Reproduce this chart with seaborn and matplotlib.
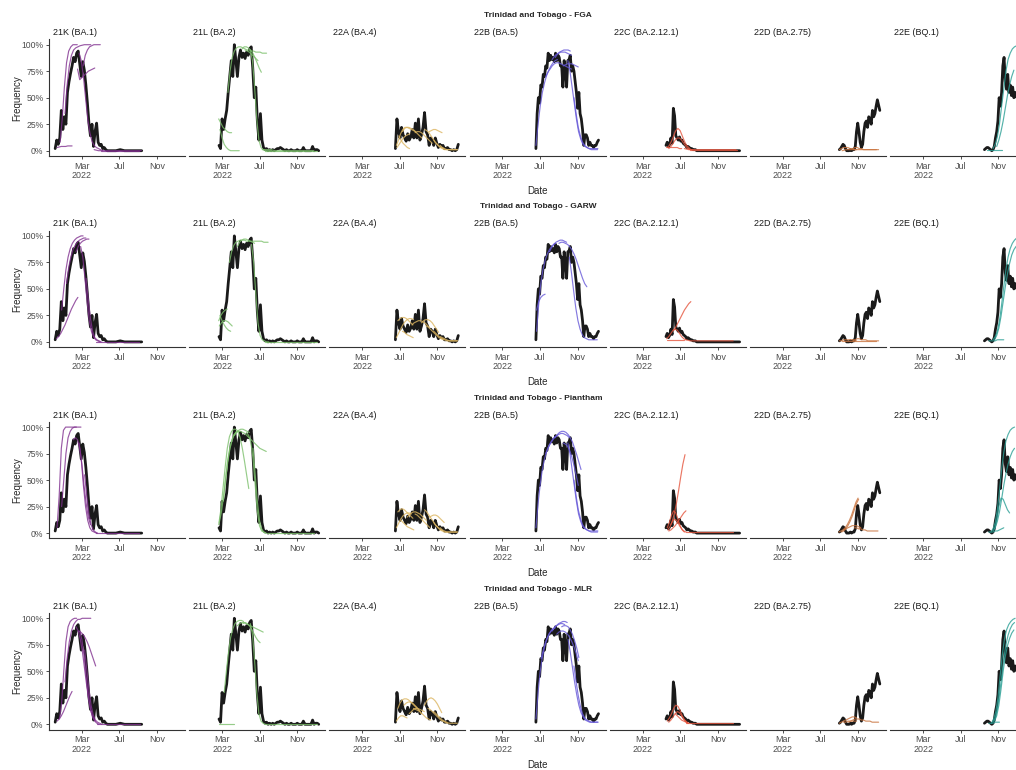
import numpy as np
import pandas as pd
import matplotlib
matplotlib.use("Agg")
import matplotlib.pyplot as plt
import seaborn as sns

# ---------------- data ----------------
COUNTRY = "Trinidad and Tobago"
MODELS = ["FGA", "GARW", "Piantham", "MLR"]
VARIANTS = ["21K (BA.1)", "21L (BA.2)", "22A (BA.4)", "22B (BA.5)",
            "22C (BA.2.12.1)", "22D (BA.2.75)", "22E (BQ.1)"]
VARIANT_COLORS = ["#80308f", "#7cc06c", "#dcb560", "#6658d8",
                  "#e5553d", "#c9733d", "#2a9f95"]
X_TICKS = ["2022-03-01", "2022-07-01", "2022-11-01"]
X_TICK_LABELS = ["Mar\n2022", "Jul", "Nov"]
Y_TICKS = [0.0, 0.25, 0.5, 0.75, 1.0]
Y_TICK_LABELS = ["0%", "25%", "50%", "75%", "100%"]

# observed frequencies: (start date, step in days, values)
OBS_21K = [("2021-12-04", 5, [0.02, 0.10, 0.06, 0.12, 0.38, 0.20, 0.32, 0.25, 0.55, 0.65, 0.73, 0.80,
                              0.88, 0.84, 0.92, 0.94, 0.82, 0.70, 0.84, 0.76, 0.62, 0.45, 0.26, 0.14,
                              0.25, 0.04, 0.18, 0.26, 0.08, 0.05, 0.06, 0.02, 0.03, 0.01, 0.00]),
           ("2022-06-06", 14, [0.00, 0.00, 0.01, 0.00, 0.00, 0.00, 0.00, 0.00])]
OBS_21L = [("2022-02-19", 5, [0.05, 0.02, 0.30, 0.20, 0.30, 0.38, 0.55, 0.70, 0.85, 0.70, 1.00, 0.85,
                              0.70, 0.88, 0.95, 0.88, 0.92, 0.87, 0.93, 0.90, 0.96, 0.98, 0.78, 0.50,
                              0.60, 0.28, 0.10, 0.35, 0.10, 0.03, 0.01, 0.02, 0.00, 0.01, 0.00, 0.01,
                              0.00, 0.01, 0.02, 0.02, 0.03, 0.02, 0.01, 0.00, 0.01, 0.00, 0.00, 0.01,
                              0.00, 0.00, 0.00, 0.01, 0.00, 0.00, 0.00, 0.03, 0.00, 0.00, 0.00, 0.00,
                              0.00, 0.04, 0.00, 0.01, 0.01, 0.00])]
OBS_22A = [("2022-06-17", 5, [0.02, 0.30, 0.18, 0.12, 0.22, 0.15, 0.12, 0.09, 0.16, 0.10, 0.13, 0.20,
                              0.12, 0.26, 0.12, 0.30, 0.10, 0.15, 0.22, 0.36, 0.18, 0.15, 0.05, 0.12,
                              0.10, 0.05, 0.12, 0.07, 0.03, 0.06, 0.04, 0.05, 0.02, 0.02, 0.03, 0.01,
                              0.01, 0.00, 0.01, 0.00, 0.01, 0.06])]
OBS_22B = [("2022-06-18", 4, [0.02, 0.35, 0.50, 0.45, 0.62, 0.60, 0.72, 0.70, 0.80, 0.78, 0.92, 0.85,
                              0.90, 0.86, 0.88, 0.84, 0.92, 0.85, 0.90, 0.88, 0.80, 0.80, 0.60, 0.85,
                              0.75, 0.60, 0.85, 0.86, 0.90, 0.75, 0.80, 0.75, 0.65, 0.55, 0.40, 0.55,
                              0.35, 0.30, 0.20, 0.05, 0.15, 0.15, 0.12, 0.05, 0.08, 0.05, 0.05, 0.03,
                              0.05, 0.05, 0.08, 0.10])]
OBS_22C = [("2022-05-16", 4, [0.05, 0.08, 0.04, 0.06, 0.12, 0.07, 0.40, 0.33, 0.14, 0.12, 0.10, 0.13,
                              0.09, 0.10, 0.07, 0.06, 0.05, 0.03, 0.04, 0.03, 0.02, 0.02, 0.01, 0.01,
                              0.01, 0.00]),
           ("2022-09-07", 14, [0.00, 0.00, 0.00, 0.00, 0.00, 0.00, 0.00, 0.00, 0.00, 0.00])]
OBS_22D = [("2022-09-01", 4, [0.01, 0.02, 0.04, 0.06, 0.05, 0.02, 0.00, 0.00, 0.00, 0.01, 0.00, 0.01,
                              0.01, 0.04, 0.18, 0.26, 0.18, 0.08, 0.03, 0.06, 0.18, 0.26, 0.28, 0.22,
                              0.32, 0.30, 0.25, 0.38, 0.32, 0.35, 0.42, 0.48, 0.43, 0.38])]
OBS_22E = [("2022-09-17", 4, [0.01, 0.02, 0.03, 0.03, 0.02, 0.01, 0.00, 0.01, 0.04, 0.12, 0.18, 0.28,
                              0.50, 0.42, 0.55, 0.80, 0.88, 0.65, 0.58, 0.72, 0.55, 0.62, 0.52, 0.60,
                              0.50, 0.55, 0.52, 0.48, 0.50, 0.46])]

# forecasts: list of (start date, step in days, values)
FGA_21K = [("2021-12-20", 7, [0.08, 0.30, 0.60, 0.83, 0.94, 0.98, 1.0, 1.0, 1.0]),
           ("2021-12-10", 7, [0.03, 0.035, 0.04, 0.04, 0.04, 0.045, 0.045, 0.045]),
           ("2022-01-05", 7, [0.35, 0.62, 0.80, 0.90, 0.95, 0.97, 0.98, 0.99, 0.995, 1.0, 1.0, 1.0, 1.0]),
           ("2022-03-05", 7, [0.80, 0.90, 0.95, 0.98, 0.99, 1.0, 1.0, 1.0, 1.0]),
           ("2022-02-15", 7, [0.77, 0.67, 0.69, 0.71, 0.73, 0.75, 0.76, 0.77, 0.78]),
           ("2022-02-20", 7, [0.92, 0.85, 0.70, 0.50, 0.30, 0.17, 0.09, 0.05, 0.03, 0.02, 0.01, 0.0]),
           ("2022-04-10", 14, [0.01, 0.0, 0.0, 0.0, 0.0, 0.0, 0.0, 0.0, 0.0, 0.0, 0.0, 0.0]),
           ("2022-05-01", 14, [0.0, 0.0, 0.0, 0.0, 0.0, 0.0, 0.0, 0.0, 0.0, 0.0])]
FGA_21L = [("2022-02-18", 7, [0.30, 0.26, 0.22, 0.20, 0.18, 0.17, 0.17]),
           ("2022-02-22", 7, [0.20, 0.12, 0.06, 0.03, 0.01, 0.0, 0.0, 0.0, 0.0, 0.0]),
           ("2022-03-20", 7, [0.55, 0.75, 0.88, 0.94, 0.97, 0.98, 0.98, 0.97, 0.96, 0.95, 0.95, 0.94,
                              0.94, 0.93, 0.93, 0.93, 0.92, 0.92, 0.92]),
           ("2022-05-05", 7, [0.96, 0.98, 0.98, 0.97, 0.95, 0.92, 0.88, 0.83, 0.78, 0.74]),
           ("2022-05-15", 7, [0.95, 0.94, 0.93, 0.91, 0.89, 0.87, 0.85]),
           ("2022-06-01", 7, [0.95, 0.85, 0.60, 0.30, 0.10, 0.03, 0.01, 0.0, 0.0, 0.0, 0.0]),
           ("2022-07-20", 14, [0.0, 0.0, 0.0, 0.0, 0.0, 0.0, 0.0, 0.0, 0.0, 0.0, 0.0, 0.0, 0.0]),
           ("2022-07-10", 14, [0.01, 0.01, 0.01, 0.0, 0.0, 0.0, 0.0, 0.0, 0.0, 0.0, 0.0, 0.0, 0.0])]
FGA_22A = [("2022-06-20", 7, [0.05, 0.10, 0.16, 0.20, 0.22, 0.22, 0.21, 0.20, 0.19, 0.18]),
           ("2022-06-22", 7, [0.03, 0.06, 0.09, 0.12, 0.14, 0.15, 0.16]),
           ("2022-06-28", 7, [0.14, 0.10, 0.07, 0.05, 0.03, 0.02]),
           ("2022-07-10", 7, [0.18, 0.21, 0.22, 0.22, 0.21, 0.20, 0.18, 0.16, 0.14, 0.12]),
           ("2022-08-20", 7, [0.17, 0.18, 0.18, 0.17, 0.15, 0.13, 0.11, 0.09, 0.07]),
           ("2022-09-20", 7, [0.20, 0.19, 0.17, 0.14, 0.11, 0.08, 0.06, 0.04, 0.03, 0.02]),
           ("2022-10-05", 7, [0.18, 0.19, 0.20, 0.20, 0.19, 0.18, 0.17]),
           ("2022-10-20", 7, [0.10, 0.07, 0.05, 0.03, 0.02, 0.01, 0.01, 0.01, 0.01, 0.01, 0.01, 0.01]),
           ("2022-11-10", 7, [0.05, 0.03, 0.02, 0.01, 0.01, 0.01, 0.01, 0.01, 0.01])]
FGA_22B = [("2022-06-18", 7, [0.05, 0.25, 0.42, 0.55, 0.64, 0.71, 0.76, 0.80, 0.83, 0.85, 0.86]),
           ("2022-07-20", 7, [0.70, 0.74, 0.77, 0.80, 0.82, 0.83, 0.83, 0.82, 0.81, 0.80, 0.79, 0.78, 0.77]),
           ("2022-08-10", 7, [0.86, 0.89, 0.91, 0.92, 0.93, 0.93, 0.93, 0.92, 0.91, 0.90]),
           ("2022-08-20", 7, [0.88, 0.91, 0.93, 0.94, 0.95, 0.95, 0.95, 0.94]),
           ("2022-09-15", 7, [0.80, 0.81, 0.82, 0.82, 0.82, 0.81, 0.80, 0.79]),
           ("2022-09-30", 7, [0.85, 0.75, 0.60, 0.45, 0.30, 0.18, 0.11, 0.06, 0.04, 0.03, 0.02, 0.02,
                              0.02, 0.02, 0.02]),
           ("2022-10-20", 7, [0.50, 0.35, 0.22, 0.14, 0.08, 0.05, 0.03, 0.02, 0.01, 0.01, 0.01, 0.01])]
FGA_22C = [("2022-05-20", 7, [0.03, 0.05, 0.09, 0.14, 0.19, 0.21, 0.19, 0.14, 0.09, 0.05, 0.03, 0.01, 0.01]),
           ("2022-05-25", 7, [0.02, 0.04, 0.07, 0.10, 0.12, 0.12, 0.10, 0.07, 0.04, 0.02, 0.01]),
           ("2022-05-18", 7, [0.03, 0.03, 0.03, 0.03, 0.03, 0.03, 0.02, 0.02]),
           ("2022-07-15", 14, [0.02, 0.01, 0.01, 0.01, 0.01, 0.01, 0.01, 0.01, 0.01, 0.01, 0.01, 0.01, 0.01]),
           ("2022-08-01", 14, [0.01, 0.01, 0.01, 0.01, 0.01, 0.01, 0.01, 0.01, 0.01, 0.01, 0.01, 0.01])]
FGA_22D = [("2022-09-01", 7, [0.01, 0.02, 0.03, 0.03, 0.03, 0.02, 0.02, 0.01, 0.01]),
           ("2022-10-15", 7, [0.02, 0.03, 0.03, 0.02, 0.02, 0.01, 0.01, 0.01, 0.01, 0.01, 0.01, 0.01, 0.01]),
           ("2022-09-10", 14, [0.00, 0.01, 0.01, 0.01, 0.01, 0.01, 0.01, 0.01, 0.01])]
FGA_22E = [("2022-10-15", 7, [0.02, 0.06, 0.13, 0.25, 0.42, 0.58, 0.75, 0.86, 0.92, 0.96, 0.98, 0.99]),
           ("2022-10-27", 7, [0.04, 0.10, 0.18, 0.28, 0.40, 0.52, 0.62, 0.70, 0.76]),
           ("2022-09-25", 7, [0.01, 0.01, 0.01, 0.01, 0.01, 0.01, 0.01, 0.01])]

GARW_21K = [("2021-12-08", 7, [0.03, 0.05, 0.08, 0.12, 0.16, 0.21, 0.26, 0.31, 0.35, 0.39, 0.42]),
            ("2021-12-25", 7, [0.30, 0.50, 0.68, 0.80, 0.88, 0.93, 0.96, 0.98, 0.99, 1.0, 1.0]),
            ("2022-01-10", 7, [0.55, 0.70, 0.80, 0.87, 0.91, 0.94, 0.96, 0.97, 0.98, 0.98]),
            ("2022-02-10", 7, [0.85, 0.90, 0.93, 0.95, 0.96, 0.97, 0.97]),
            ("2022-02-25", 7, [0.90, 0.80, 0.60, 0.38, 0.20, 0.10, 0.05, 0.02, 0.01, 0.0]),
            ("2022-03-15", 7, [0.60, 0.40, 0.22, 0.10, 0.04, 0.02, 0.01, 0.0]),
            ("2022-04-15", 14, [0.0, 0.0, 0.0, 0.0, 0.0, 0.0, 0.0, 0.0, 0.0, 0.0, 0.0])]
GARW_21L = [("2022-02-18", 7, [0.20, 0.25, 0.28, 0.30, 0.31]),
            ("2022-02-20", 7, [0.15, 0.18, 0.20, 0.20, 0.19, 0.17, 0.15]),
            ("2022-02-22", 7, [0.25, 0.20, 0.16, 0.13, 0.11, 0.10]),
            ("2022-03-25", 7, [0.75, 0.85, 0.91, 0.94, 0.95, 0.96, 0.96, 0.96, 0.95, 0.95, 0.95, 0.95,
                               0.95, 0.95, 0.95, 0.95, 0.94, 0.94, 0.94]),
            ("2022-04-20", 7, [0.90, 0.94, 0.96, 0.97, 0.97, 0.96, 0.95, 0.94, 0.93]),
            ("2022-06-05", 7, [0.92, 0.75, 0.45, 0.18, 0.06, 0.02, 0.01, 0.0, 0.0]),
            ("2022-07-20", 14, [0.0, 0.0, 0.0, 0.0, 0.0, 0.0, 0.0, 0.0, 0.0, 0.0, 0.0, 0.0, 0.0])]
GARW_22A = [("2022-06-20", 7, [0.04, 0.08, 0.12, 0.16, 0.19, 0.21, 0.22, 0.22, 0.21]),
            ("2022-06-25", 7, [0.20, 0.22, 0.23, 0.23, 0.22, 0.20, 0.18, 0.16]),
            ("2022-07-10", 7, [0.10, 0.09, 0.07, 0.06, 0.05, 0.04]),
            ("2022-08-10", 7, [0.16, 0.18, 0.19, 0.20, 0.20, 0.19, 0.18, 0.16, 0.14]),
            ("2022-09-10", 7, [0.18, 0.20, 0.21, 0.21, 0.20, 0.18, 0.15, 0.12, 0.09]),
            ("2022-09-25", 7, [0.15, 0.14, 0.12, 0.10, 0.08, 0.06, 0.04, 0.03, 0.02]),
            ("2022-10-20", 7, [0.10, 0.08, 0.06, 0.04, 0.03, 0.02, 0.01, 0.01, 0.01, 0.01, 0.01, 0.01]),
            ("2022-11-10", 7, [0.05, 0.04, 0.03, 0.02, 0.01, 0.01, 0.01, 0.01, 0.01])]
GARW_22B = [("2022-06-20", 7, [0.30, 0.38, 0.42, 0.44, 0.45]),
            ("2022-06-20", 7, [0.10, 0.35, 0.55, 0.68, 0.77, 0.83, 0.87, 0.90, 0.92, 0.93]),
            ("2022-08-01", 7, [0.85, 0.89, 0.92, 0.94, 0.95, 0.96, 0.96, 0.95, 0.94]),
            ("2022-09-01", 7, [0.93, 0.94, 0.94, 0.93, 0.92, 0.90, 0.87, 0.83, 0.78, 0.72, 0.66, 0.60,
                               0.55, 0.52]),
            ("2022-10-05", 7, [0.80, 0.65, 0.48, 0.32, 0.20, 0.12, 0.07, 0.04, 0.03, 0.02, 0.02, 0.02,
                               0.02, 0.02])]
GARW_22C = [("2022-06-10", 7, [0.11, 0.14, 0.18, 0.22, 0.26, 0.30, 0.33, 0.36, 0.38]),
            ("2022-05-18", 7, [0.03, 0.05, 0.08, 0.11, 0.12, 0.11, 0.08, 0.05, 0.03, 0.02]),
            ("2022-05-20", 7, [0.02, 0.02, 0.02, 0.02, 0.02, 0.02, 0.02, 0.02, 0.02]),
            ("2022-07-20", 14, [0.02, 0.01, 0.01, 0.01, 0.01, 0.01, 0.01, 0.01, 0.01, 0.01, 0.01, 0.01])]
GARW_22D = [("2022-09-01", 7, [0.01, 0.01, 0.02, 0.02, 0.02, 0.02, 0.02, 0.01, 0.01]),
            ("2022-10-15", 7, [0.02, 0.02, 0.03, 0.03, 0.02, 0.02, 0.02, 0.01, 0.01, 0.01, 0.01, 0.01, 0.01]),
            ("2022-09-10", 14, [0.01, 0.01, 0.01, 0.01, 0.01, 0.01, 0.01, 0.01, 0.01])]
GARW_22E = [("2022-10-15", 7, [0.02, 0.05, 0.10, 0.20, 0.35, 0.52, 0.68, 0.80, 0.88, 0.93, 0.96, 0.98, 0.99]),
            ("2022-10-20", 7, [0.02, 0.06, 0.13, 0.24, 0.38, 0.52, 0.64, 0.74, 0.82, 0.87, 0.90, 0.92]),
            ("2022-10-01", 7, [0.01, 0.01, 0.01, 0.01, 0.02, 0.02, 0.02, 0.02])]

PIANTHAM_21K = [("2021-12-10", 7, [0.05, 0.35, 0.80, 0.97, 1.0, 1.0, 1.0, 1.0, 1.0, 1.0]),
                ("2021-12-25", 7, [0.25, 0.50, 0.75, 0.90, 0.96, 0.99, 1.0, 1.0, 1.0, 1.0]),
                ("2022-02-01", 7, [0.88, 0.90, 0.88, 0.80, 0.65, 0.45, 0.28, 0.15, 0.08]),
                ("2022-02-20", 7, [0.85, 0.70, 0.45, 0.25, 0.12, 0.05, 0.02, 0.01, 0.0]),
                ("2022-03-10", 7, [0.55, 0.35, 0.18, 0.08, 0.03, 0.01, 0.0]),
                ("2022-04-15", 14, [0.0, 0.0, 0.0, 0.0, 0.0, 0.0, 0.0, 0.0, 0.0, 0.0, 0.0])]
PIANTHAM_21L = [("2022-02-18", 7, [0.08, 0.22, 0.42, 0.62, 0.80, 0.91, 0.96, 0.98, 0.98, 0.96, 0.90,
                                   0.80, 0.68, 0.55, 0.42]),
                ("2022-03-05", 7, [0.30, 0.50, 0.68, 0.80, 0.88, 0.93, 0.95, 0.96, 0.96, 0.95, 0.94,
                                   0.92, 0.90, 0.88, 0.86, 0.84, 0.82, 0.80, 0.79, 0.78, 0.77]),
                ("2022-04-10", 7, [0.92, 0.95, 0.97, 0.98, 0.98, 0.97, 0.96, 0.95]),
                ("2022-05-20", 7, [0.95, 0.92, 0.85, 0.70, 0.45, 0.20, 0.07, 0.02, 0.01, 0.0]),
                ("2022-06-10", 7, [0.80, 0.55, 0.30, 0.12, 0.04, 0.01, 0.0]),
                ("2022-07-25", 14, [0.0, 0.0, 0.0, 0.0, 0.0, 0.0, 0.0, 0.0, 0.0, 0.0, 0.0, 0.0]),
                ("2022-02-20", 7, [0.10, 0.20, 0.35, 0.52, 0.68, 0.80, 0.88, 0.93, 0.96])]
PIANTHAM_22A = [("2022-06-20", 7, [0.05, 0.09, 0.13, 0.16, 0.18, 0.19, 0.19, 0.18]),
                ("2022-06-25", 7, [0.20, 0.22, 0.23, 0.22, 0.20, 0.18, 0.16, 0.14]),
                ("2022-07-05", 7, [0.12, 0.10, 0.08, 0.06, 0.05, 0.04, 0.03]),
                ("2022-07-25", 7, [0.15, 0.17, 0.19, 0.20, 0.20, 0.19, 0.18, 0.16, 0.14, 0.12]),
                ("2022-08-20", 7, [0.18, 0.17, 0.15, 0.13, 0.11, 0.09, 0.07, 0.05]),
                ("2022-09-20", 7, [0.22, 0.20, 0.17, 0.14, 0.11, 0.08, 0.06, 0.04, 0.03]),
                ("2022-10-05", 7, [0.15, 0.16, 0.17, 0.17, 0.16, 0.14, 0.12, 0.10]),
                ("2022-10-20", 7, [0.10, 0.07, 0.05, 0.03, 0.02, 0.01, 0.01, 0.01, 0.01, 0.01, 0.01, 0.01]),
                ("2022-11-10", 7, [0.05, 0.03, 0.02, 0.01, 0.01, 0.01, 0.01, 0.01, 0.01])]
PIANTHAM_22B = [("2022-06-18", 7, [0.05, 0.28, 0.46, 0.60, 0.70, 0.77, 0.82, 0.86, 0.89, 0.91, 0.92]),
                ("2022-07-20", 7, [0.75, 0.80, 0.84, 0.87, 0.90, 0.92, 0.93, 0.94, 0.94, 0.93, 0.92, 0.90]),
                ("2022-08-20", 7, [0.90, 0.93, 0.95, 0.96, 0.96, 0.95, 0.93, 0.90, 0.86, 0.80, 0.74, 0.67,
                                   0.60]),
                ("2022-09-15", 7, [0.85, 0.84, 0.82, 0.78, 0.72, 0.64, 0.55, 0.45]),
                ("2022-09-30", 7, [0.85, 0.75, 0.60, 0.45, 0.30, 0.18, 0.11, 0.06, 0.04, 0.03, 0.02, 0.02,
                                   0.02, 0.02, 0.02]),
                ("2022-10-20", 7, [0.50, 0.35, 0.22, 0.14, 0.08, 0.05, 0.03, 0.02, 0.01, 0.01, 0.01, 0.01])]
PIANTHAM_22C = [("2022-05-22", 7, [0.03, 0.06, 0.11, 0.18, 0.28, 0.40, 0.53, 0.65, 0.74]),
                ("2022-05-25", 7, [0.02, 0.03, 0.05, 0.07, 0.10, 0.13, 0.16, 0.19, 0.21]),
                ("2022-05-20", 7, [0.05, 0.10, 0.17, 0.21, 0.19, 0.13, 0.07, 0.03, 0.01]),
                ("2022-06-01", 7, [0.08, 0.12, 0.13, 0.11, 0.07, 0.04, 0.02, 0.01]),
                ("2022-07-20", 14, [0.01, 0.01, 0.01, 0.01, 0.01, 0.01, 0.01, 0.01, 0.01, 0.01, 0.01, 0.01])]
PIANTHAM_22D = [("2022-08-30", 7, [0.01, 0.02, 0.03, 0.05, 0.08, 0.12, 0.17, 0.23, 0.29, 0.33]),
                ("2022-09-08", 7, [0.01, 0.02, 0.04, 0.07, 0.11, 0.16, 0.22, 0.28, 0.32]),
                ("2022-09-15", 7, [0.03, 0.04, 0.05, 0.06, 0.07, 0.07, 0.07, 0.06, 0.05]),
                ("2022-10-20", 7, [0.05, 0.05, 0.04, 0.04, 0.03, 0.03, 0.02, 0.02, 0.02, 0.02, 0.02, 0.02])]
PIANTHAM_22E = [("2022-10-08", 7, [0.01, 0.04, 0.10, 0.22, 0.40, 0.60, 0.76, 0.87, 0.93, 0.97, 0.99, 1.0]),
                ("2022-10-15", 7, [0.02, 0.05, 0.11, 0.20, 0.32, 0.45, 0.56, 0.65, 0.72, 0.77, 0.80]),
                ("2022-10-20", 7, [0.04, 0.12, 0.25, 0.33, 0.32, 0.27, 0.22, 0.19]),
                ("2022-10-01", 7, [0.01, 0.01, 0.01, 0.02, 0.02, 0.03, 0.04, 0.05])]

MLR_21K = [("2021-12-10", 7, [0.03, 0.05, 0.08, 0.12, 0.17, 0.22, 0.27, 0.31]),
           ("2021-12-18", 7, [0.05, 0.20, 0.50, 0.78, 0.92, 0.97, 0.99, 1.0, 1.0]),
           ("2022-01-05", 7, [0.40, 0.62, 0.78, 0.88, 0.94, 0.97, 0.99, 0.99, 1.0, 1.0, 1.0, 1.0, 1.0]),
           ("2022-02-18", 7, [0.88, 0.87, 0.85, 0.82, 0.78, 0.73, 0.67, 0.61, 0.55]),
           ("2022-02-22", 7, [0.88, 0.80, 0.65, 0.45, 0.27, 0.14, 0.07, 0.03, 0.01, 0.0]),
           ("2022-03-10", 7, [0.70, 0.52, 0.33, 0.18, 0.09, 0.04, 0.02, 0.01, 0.0]),
           ("2022-02-10", 7, [0.92, 0.88, 0.80, 0.68, 0.52, 0.36, 0.22, 0.12, 0.06, 0.03]),
           ("2022-04-20", 14, [0.0, 0.0, 0.0, 0.0, 0.0, 0.0, 0.0, 0.0, 0.0, 0.0, 0.0])]
MLR_21L = [("2022-02-20", 7, [0.0, 0.0, 0.0, 0.0, 0.0, 0.0, 0.0, 0.0]),
           ("2022-03-08", 7, [0.30, 0.50, 0.68, 0.82, 0.90, 0.95, 0.97, 0.98, 0.98, 0.97]),
           ("2022-04-20", 7, [0.93, 0.95, 0.96, 0.96, 0.95, 0.94, 0.93, 0.92, 0.91, 0.90, 0.89, 0.88, 0.87]),
           ("2022-05-08", 7, [0.95, 0.96, 0.95, 0.93, 0.90, 0.86, 0.82, 0.79, 0.77]),
           ("2022-06-01", 7, [0.95, 0.85, 0.60, 0.30, 0.10, 0.03, 0.01, 0.0]),
           ("2022-07-20", 14, [0.0, 0.0, 0.0, 0.0, 0.0, 0.0, 0.0, 0.0, 0.0, 0.0, 0.0, 0.0, 0.0])]
MLR_22A = [("2022-06-20", 7, [0.03, 0.06, 0.08, 0.08, 0.07, 0.06]),
           ("2022-06-25", 7, [0.15, 0.20, 0.23, 0.24, 0.24, 0.23, 0.21, 0.19, 0.17, 0.15, 0.13]),
           ("2022-07-15", 7, [0.18, 0.20, 0.21, 0.21, 0.20, 0.18, 0.16, 0.13, 0.10]),
           ("2022-08-15", 7, [0.15, 0.14, 0.13, 0.12, 0.10, 0.08, 0.06, 0.05, 0.04]),
           ("2022-09-20", 7, [0.18, 0.22, 0.24, 0.25, 0.24, 0.22, 0.19, 0.15, 0.11]),
           ("2022-10-01", 7, [0.15, 0.14, 0.12, 0.10, 0.08, 0.06, 0.04, 0.03, 0.02, 0.01]),
           ("2022-10-20", 7, [0.12, 0.10, 0.08, 0.06, 0.04, 0.03, 0.02, 0.01, 0.01, 0.01, 0.01, 0.01]),
           ("2022-08-01", 7, [0.10, 0.12, 0.14, 0.15, 0.15, 0.14, 0.13, 0.12])]
MLR_22B = [("2022-06-18", 7, [0.05, 0.30, 0.50, 0.63, 0.73, 0.80, 0.85, 0.88, 0.90, 0.91]),
           ("2022-07-05", 7, [0.62, 0.70, 0.77, 0.82, 0.86, 0.89, 0.91, 0.93, 0.94, 0.95, 0.95, 0.94]),
           ("2022-08-10", 7, [0.88, 0.91, 0.93, 0.95, 0.96, 0.97, 0.97, 0.96]),
           ("2022-08-25", 7, [0.85, 0.87, 0.88, 0.88, 0.87, 0.85, 0.82, 0.78, 0.73, 0.67, 0.60]),
           ("2022-09-10", 7, [0.92, 0.93, 0.93, 0.92, 0.89, 0.85, 0.79, 0.72, 0.63]),
           ("2022-10-01", 7, [0.80, 0.68, 0.54, 0.40, 0.28, 0.18, 0.11, 0.07, 0.04, 0.03, 0.02, 0.02,
                              0.02, 0.02, 0.02]),
           ("2022-10-20", 7, [0.55, 0.40, 0.27, 0.17, 0.10, 0.06, 0.04, 0.03, 0.02, 0.02, 0.02, 0.02])]
MLR_22C = [("2022-05-20", 7, [0.03, 0.06, 0.10, 0.15, 0.18, 0.17, 0.13, 0.08, 0.04, 0.02, 0.01]),
           ("2022-05-25", 7, [0.02, 0.04, 0.07, 0.10, 0.12, 0.11, 0.08, 0.05, 0.03, 0.01]),
           ("2022-06-15", 7, [0.10, 0.08, 0.06, 0.04, 0.03, 0.02, 0.01]),
           ("2022-07-20", 14, [0.01, 0.01, 0.01, 0.01, 0.01, 0.01, 0.01, 0.01, 0.01, 0.01, 0.01, 0.01])]
MLR_22D = [("2022-09-01", 7, [0.01, 0.02, 0.03, 0.04, 0.05, 0.06, 0.07, 0.07, 0.06]),
           ("2022-10-01", 7, [0.02, 0.03, 0.04, 0.05, 0.05, 0.05, 0.04, 0.04, 0.03, 0.03, 0.03, 0.02,
                              0.02, 0.02, 0.02]),
           ("2022-09-15", 7, [0.02, 0.02, 0.03, 0.03, 0.03, 0.03, 0.03])]
MLR_22E = [("2022-10-10", 7, [0.01, 0.05, 0.12, 0.25, 0.45, 0.65, 0.80, 0.89, 0.94, 0.97, 0.99, 1.0]),
           ("2022-10-15", 7, [0.02, 0.06, 0.14, 0.28, 0.45, 0.62, 0.75, 0.84, 0.90, 0.94, 0.96]),
           ("2022-10-20", 7, [0.03, 0.08, 0.18, 0.33, 0.50, 0.64, 0.74, 0.81, 0.86, 0.89]),
           ("2022-10-01", 7, [0.01, 0.01, 0.01, 0.02, 0.02, 0.02])]

OBSERVED = [OBS_21K, OBS_21L, OBS_22A, OBS_22B, OBS_22C, OBS_22D, OBS_22E]
FORECASTS = {
    "FGA": [FGA_21K, FGA_21L, FGA_22A, FGA_22B, FGA_22C, FGA_22D, FGA_22E],
    "GARW": [GARW_21K, GARW_21L, GARW_22A, GARW_22B, GARW_22C, GARW_22D, GARW_22E],
    "Piantham": [PIANTHAM_21K, PIANTHAM_21L, PIANTHAM_22A, PIANTHAM_22B, PIANTHAM_22C,
                 PIANTHAM_22D, PIANTHAM_22E],
    "MLR": [MLR_21K, MLR_21L, MLR_22A, MLR_22B, MLR_22C, MLR_22D, MLR_22E],
}


def to_frame(segments):
    parts = []
    for i, (start, step, vals) in enumerate(segments):
        dates = pd.Timestamp(start) + pd.to_timedelta(np.arange(len(vals)) * step, unit="D")
        parts.append(pd.DataFrame({"date": dates, "freq": vals, "fid": i}))
    return pd.concat(parts, ignore_index=True)


# ---------------- style ----------------
sns.set_theme(style="ticks")
plt.rcParams["font.family"] = ["Liberation Sans", "DejaVu Sans"]
plt.rcParams["axes.linewidth"] = 0.8

W, H = 1016, 770
fig = plt.figure(figsize=(W / 100, H / 100), dpi=100)

# global x range with 5% expansion
all_dates = []
for obs in OBSERVED:
    all_dates.append(to_frame(obs)["date"])
for m in MODELS:
    for fc in FORECASTS[m]:
        all_dates.append(to_frame(fc)["date"])
all_dates = pd.concat(all_dates)
dmin, dmax = all_dates.min(), all_dates.max()
span = dmax - dmin
xlim = (dmin - 0.05 * span, dmax + 0.05 * span)

COL_X0, COL_STEP, COL_W = 49.0, 140.2, 136.0
ROW_TOP, ROW_STEP, ROW_H = 39.4, 191.2, 116.6
AX_COLOR = "#333333"
TICK_TXT = "#4d4d4d"

obs_frames = [to_frame(o) for o in OBSERVED]

for r, model in enumerate(MODELS):
    top = ROW_TOP + r * ROW_STEP
    for c, variant in enumerate(VARIANTS):
        x0 = COL_X0 + c * COL_STEP
        ax = fig.add_axes([x0 / W, 1 - (top + ROW_H) / H, COL_W / W, ROW_H / H])
        ax.set_facecolor("white")
        sns.lineplot(data=obs_frames[c], x="date", y="freq", color="#1a1a1a", lw=2.0,
                     estimator=None, ax=ax, legend=False)
        fc = to_frame(FORECASTS[model][c])
        sns.lineplot(data=fc, x="date", y="freq", units="fid", estimator=None,
                     color=VARIANT_COLORS[c], lw=0.85, alpha=0.8, ax=ax, legend=False)
        ax.set_xlim(xlim)
        ax.set_ylim(-0.05, 1.05)
        ax.set_xlabel("")
        ax.set_ylabel("")
        ax.set_xticks(pd.to_datetime(X_TICKS))
        ax.set_xticklabels(X_TICK_LABELS, fontsize=6.4, color=TICK_TXT, linespacing=1.05)
        ax.tick_params(axis="both", length=2.2, width=0.6, color=AX_COLOR, pad=1.8)
        for s in ["top", "right"]:
            ax.spines[s].set_visible(False)
        ax.spines["bottom"].set_color(AX_COLOR)
        if c == 0:
            ax.set_yticks(Y_TICKS)
            ax.set_yticklabels(Y_TICK_LABELS, fontsize=6.2, color=TICK_TXT)
            ax.spines["left"].set_color(AX_COLOR)
        else:
            ax.set_yticks([])
            ax.spines["left"].set_visible(False)
        fig.text((x0 + 4) / W, 1 - (32.7 + r * ROW_STEP) / H, variant,
                 fontsize=6.5, ha="left", va="center", color="#1a1a1a")

    fig.text(538 / W, 1 - (15.7 + r * ROW_STEP) / H, f"{COUNTRY} - {model}",
             fontsize=6, fontweight="bold", ha="center", va="center")
    fig.text(17.3 / W, 1 - (97.7 + r * ROW_STEP) / H, "Frequency", fontsize=7,
             rotation=90, ha="center", va="center")
    fig.text(538 / W, 1 - (191.0 + r * ROW_STEP) / H, "Date", fontsize=7,
             ha="center", va="center")

fig.savefig("out.png", dpi=100, facecolor="white")
